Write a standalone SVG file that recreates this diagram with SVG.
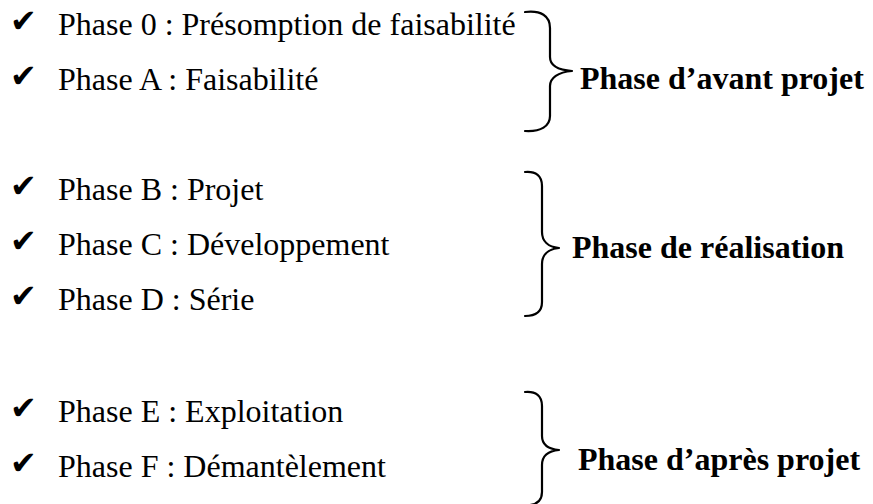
<svg xmlns="http://www.w3.org/2000/svg" width="873" height="504" viewBox="0 0 873 504">
<style>
.item{font-family:"Liberation Serif","Times New Roman",serif;font-size:32px;fill:#000}
.check{font-family:"DejaVu Sans",sans-serif;font-size:32px;fill:#000}
.group{font-family:"Liberation Serif","Times New Roman",serif;font-size:32px;font-weight:bold;fill:#000}
.brace{fill:none;stroke:#000;stroke-width:2.2;stroke-linecap:round;stroke-linejoin:round}
</style>
<rect width="873" height="504" fill="#fff"/>
<g id="phase0"><text class="check" x="10" y="32">✔</text><text class="item" x="58" y="35">Phase 0 : Présomption de faisabilité</text></g>
<g id="phaseA"><text class="check" x="10" y="87">✔</text><text class="item" x="58" y="90">Phase A : Faisabilité</text></g>
<g id="phaseB"><text class="check" x="10" y="197">✔</text><text class="item" x="58" y="200">Phase B : Projet</text></g>
<g id="phaseC"><text class="check" x="10" y="252">✔</text><text class="item" x="58" y="255">Phase C : Développement</text></g>
<g id="phaseD"><text class="check" x="10" y="307">✔</text><text class="item" x="58" y="310">Phase D : Série</text></g>
<g id="phaseE"><text class="check" x="10" y="419">✔</text><text class="item" x="58" y="422">Phase E : Exploitation</text></g>
<g id="phaseF"><text class="check" x="10" y="474">✔</text><text class="item" x="58" y="477">Phase F : Démantèlement</text></g>
<g id="connectors">
<path class="brace" d="M525,12 C541,10 550,16 550,28 L550,57 C550,65 558,70 572,71 C558,72 550,78 550,86 L550,116 C550,126 541,132 525,131"/>
<path class="brace" d="M525,172 C536,171 542,176 542,186 L542,232 C542,241 548,247 559,248 C548,249 542,255 542,264 L542,302 C542,311 536,316 525,316"/>
<path class="brace" d="M525,392 C536,391 542,396 542,406 L542,436 C542,444 548,449 559,450 C548,451 542,456 542,465 L542,492 C542,500 538,504 530,505"/>
</g>
<g id="avant"><text class="group" x="580" y="89">Phase d’avant projet</text></g>
<g id="realisation"><text class="group" x="572" y="258">Phase de réalisation</text></g>
<g id="apres"><text class="group" x="578" y="470">Phase d’après projet</text></g>
</svg>
